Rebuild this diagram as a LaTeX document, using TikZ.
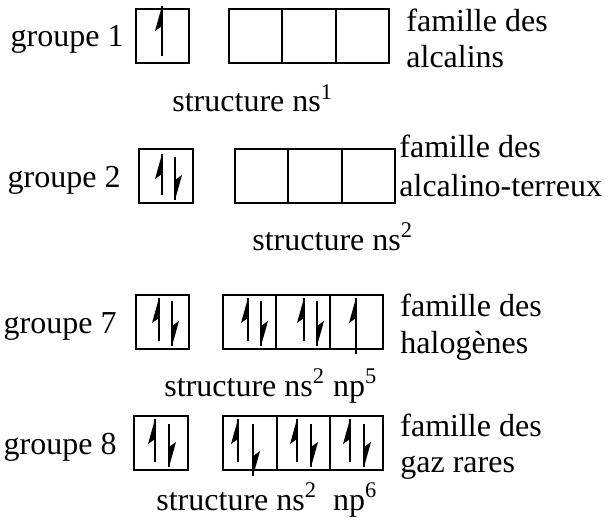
\documentclass[tikz,border=0pt]{standalone}
\usepackage{fontspec}
\setmainfont{Liberation Serif}
\usetikzlibrary{calc}

\tikzset{
  txt/.style={inner sep=0pt, anchor=base west, font=\fontsize{16}{20}\selectfont},
  grp/.style={txt, anchor=base east},
  box/.style={line width=1pt},
  spin/.style={line width=1pt},
}

% half-headed electron arrows: x, top, bottom
\newcommand{\upspin}[3]{%
  \draw[spin] (#1,#2) -- (#1,#3);
  \fill (#1,#2) -- ++(-7,25) -- ++(7,-5) -- cycle;}
\newcommand{\downspin}[3]{%
  \draw[spin] (#1,#2) -- (#1,#3);
  \fill (#1,#3) -- ++(7,-25) -- ++(-7,5) -- cycle;}

\begin{document}
\begin{tikzpicture}[x=0.5pt,y=-0.5pt]
\useasboundingbox (0,0) rectangle (614,529);

% groupe 1
\node[grp] (g1) at (124,47) {groupe 1};
\draw[box] (136,9) rectangle (189,63);
\draw[box] (229,9) rectangle (389,63);
\foreach \x in {282,336} \draw[box] (\x,9) -- (\x,63);
\upspin{162}{6}{56}
\node[txt] (f1a) at (406,32) {famille des};
\node[txt] (f1b) at (406,68) {alcalins};
\node[txt] (s1) at (172,112) {structure ns\textsuperscript{1}};

% groupe 2
\node[grp] (g2) at (121,187) {groupe 2};
\draw[box] (139,149) rectangle (193,203);
\draw[box] (235,149) rectangle (395,203);
\foreach \x in {288,342} \draw[box] (\x,149) -- (\x,203);
\upspin{162}{154}{195}
\downspin{175}{157}{200}
\node[txt] (f2a) at (399,158) {famille des};
\node[txt] (f2b) at (399,196) {alcalino-terreux};
\node[txt] (s2) at (252,250) {structure ns\textsuperscript{2}};

% groupe 7
\node[grp] (g7) at (117,333) {groupe 7};
\draw[box] (136,295) rectangle (189,349);
\draw[box] (223,295) rectangle (383,349);
\foreach \x in {276,330} \draw[box] (\x,295) -- (\x,349);
\foreach \x in {159,248,304} {
  \upspin{\x}{298}{341}
  \downspin{\x+13}{301}{346}
}
\upspin{356}{298}{354}
\node[txt] (f7a) at (400,316) {famille des};
\node[txt] (f7b) at (400,353) {halogènes};
\node[txt] (s7) at (164,396) {structure ns\textsuperscript{2} np\textsuperscript{5}};

% groupe 8
\node[grp] (g8) at (117,454) {groupe 8};
\draw[box] (134,416) rectangle (188,470);
\draw[box] (223,416) rectangle (383,470);
\foreach \x in {277,330} \draw[box] (\x,416) -- (\x,470);
\foreach \x in {155,297,350} {
  \upspin{\x}{419}{462}
  \downspin{\x+14}{424}{467}
}
\upspin{238}{419}{462}
\downspin{253}{424}{476}
\node[txt] (f8a) at (400,436) {famille des};
\node[txt] (f8b) at (400,472) {gaz rares};
\node[txt] (s8) at (156,510) {structure ns\textsuperscript{2}\ \ np\textsuperscript{6}};
\end{tikzpicture}
\end{document}
